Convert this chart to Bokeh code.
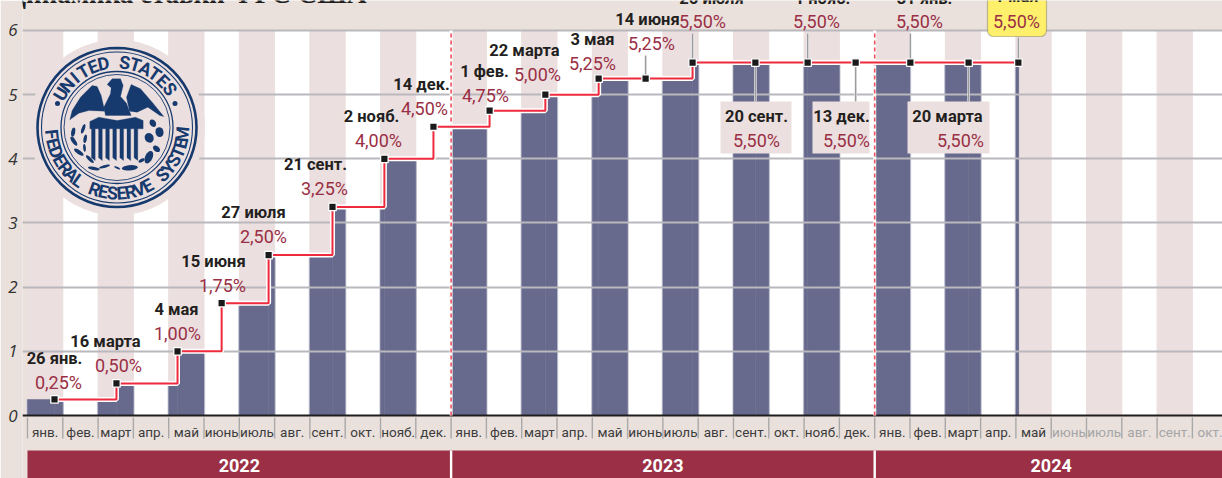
import numpy as np
from bokeh.plotting import figure
from bokeh.models import Label, BoxAnnotation, LinearAxis, FixedTicker, Range1d
from bokeh.core.properties import value
from bokeh.embed import file_html
from bokeh.resources import INLINE

# ---------- data ----------
months_base = ["янв.", "фев.", "март", "апр.", "май", "июнь", "июль", "авг.", "сент.", "окт.", "нояб.", "дек."]
month_labels = months_base * 2 + months_base[:10]
years = ["2022", "2023", "2024"]
year_months = [(0, 12), (12, 24), (24, 34)]
event_dates = ["26 янв.", "16 марта", "4 мая", "15 июня", "27 июля", "21 сент.", "2 нояб.", "14 дек.",
               "1 фев.", "22 марта", "3 мая", "14 июня", "26 июля", "20 сент.", "1 нояб.", "13 дек.",
               "31 янв.", "20 марта", "1 мая"]
event_rates = [0.25, 0.50, 1.00, 1.75, 2.50, 3.25, 4.00, 4.50,
               4.75, 5.00, 5.25, 5.25, 5.50, 5.50, 5.50, 5.50,
               5.50, 5.50, 5.50]
event_month = [0.765, 2.52, 4.25, 5.50, 6.83, 8.64, 10.11, 11.50,
               13.09, 14.67, 16.18, 17.51, 18.84, 20.62, 22.10, 23.46,
               25.01, 26.66, 28.07]
y_ticks = [0, 1, 2, 3, 4, 5, 6]

# ---------- layout (pixel placement of annotations) ----------
W, H = 1222, 478
MW, UH = 35.3, 64.17
X = lambda px: (np.asarray(px, dtype=float) - 27) / MW
Y = lambda py: (415 - np.asarray(py, dtype=float)) / UH
date_px = [(54, 358), (105, 341), (176, 309), (213, 261), (253, 212), (315, 164), (371, 116), (421, 84),
           (484, 71), (524, 50), (592, 39), (647, 19), (711, -2), (756, 116), (822, -2), (841, 116),
           (924, -2), (947, 116), (1016, -4)]
rate_px = [(58, 382), (118, 365), (177, 333), (222, 285), (263, 236), (324, 188), (378, 140), (424, 108),
           (485, 95), (537, 74), (592, 63), (651, 43), (702, 21), (756, 140), (816, 21), (846, 140),
           (919, 21), (960, 140), (1016, 21)]
BEIGE, STRIPE, BAR, RED, WINE, INK, NAVY = "#EAE1DD", "#ECDFDF", "#676A8C", "#EE2A3C", "#9A2F45", "#231F20", "#163A6E"
FONT = value("Roboto")

p = figure(width=W, height=H, output_backend="svg", toolbar_location=None,
           x_range=Range1d(float(X(22)), float(X(W))), y_range=Range1d(float(Y(H)), float(Y(0))),
           x_axis_location=None, y_axis_location=None, min_border_left=22, min_border_right=0,
           min_border_top=0, min_border_bottom=0, outline_line_color=None,
           background_fill_color=BEIGE, border_fill_color=BEIGE, margin=0)

yax = LinearAxis(ticker=FixedTicker(ticks=y_ticks), axis_line_color=None, major_tick_line_color=None,
                 minor_tick_line_color=None, major_tick_out=0, major_tick_in=0, major_label_standoff=5,
                 major_label_text_font="Open Sans", major_label_text_font_style="italic",
                 major_label_text_font_size="17px", major_label_text_color="#333333")
p.add_layout(yax, "left")
p.ygrid.ticker = FixedTicker(ticks=y_ticks[1:])
p.ygrid.grid_line_color = "#B9B8BC"
p.ygrid.grid_line_width = 2
p.xgrid.visible = False

# plot background + stripes (level "image", beneath grid)
n = len(month_labels)
p.quad(left=[0], right=[n], bottom=[0], top=[6], color="white", level="image")
odd = np.arange(0, n, 2)
p.quad(left=odd, right=odd + 1, bottom=0, top=6, color=STRIPE, level="image")

# bars: the step function of the rate inside every second month
bl, br, bt = [], [], []
ex, et = [], []
em = np.array(event_month)
for m in odd:
    cuts = [m] + [e for e in event_month if m < e < m + 1] + [m + 1]
    first = True
    last = None
    for a, b in zip(cuts[:-1], cuts[1:]):
        if a > event_month[-1]:
            continue
        i = np.searchsorted(em, a, side="right") - 1
        r = event_rates[max(i, 0)]
        bl.append(a); br.append(min(b, event_month[-1])); bt.append(r)
        if first:
            ex.append(a); et.append(r); first = False
        last = (min(b, event_month[-1]), r)
    if last:
        ex.append(last[0]); et.append(last[1])
p.segment(ex, 0, ex, et, color="#CFCFDB", line_width=2.4, level="image")
p.quad(left=bl, right=br, bottom=0, top=bt, fill_color=BAR, line_color=BAR, line_width=0.5, level="image")

# seal
cx, cy = 116.5, 127
def ZX(z): return 60 + np.asarray(z, dtype=float) / 3
def ZY(z): return 60 + np.asarray(z, dtype=float) / 3
def poly(pts):
    pts = np.array(pts, dtype=float)
    p.patch(X(ZX(pts[:, 0])), Y(ZY(pts[:, 1])), color=NAVY, line_width=0.3)
def leaf(x, y, l, w, ang, col=NAVY):
    t = np.linspace(0, 2 * np.pi, 20)
    a = np.radians(ang)
    u, v = l * np.cos(t), w * np.sin(t)
    p.patch(X(ZX(x + u * np.cos(a) - v * np.sin(a))), Y(ZY(y + u * np.sin(a) + v * np.cos(a))), color=col, line_width=0)

p.scatter([X(cx)], [Y(cy)], size=176, marker="circle", color=STRIPE, line_width=0)
for r, w in [(79.5, 2.6), (75.5, 1.1), (56, 1.3), (53, 0.9)]:
    p.scatter([X(cx)], [Y(cy)], size=2 * r, marker="circle", fill_color=None, line_color=NAVY, line_width=w)
for txt, a0, a1, off in [("UNITED STATES", 149, 36, -90), ("FEDERAL RESERVE SYSTEM", 186, 354, -270)]:
    th = np.linspace(a0, a1, len(txt))
    rr = 65.5
    p.text(X(cx + rr * np.cos(np.radians(th))), Y(cy - rr * np.sin(np.radians(th))), text=list(txt),
           angle=np.radians(th + off), text_align="center", text_baseline="middle",
           text_color=NAVY, text_font=value("Roboto"), text_font_style="bold", text_font_size="18px")
p.scatter(X([57, 174.5]), Y([103, 103]), size=5, color=NAVY, line_width=0)

poly([(28, 178), (35, 150), (60, 110), (95, 75), (110, 78), (122, 105), (133, 152), (85, 150), (55, 158)])
poly([(207, 152), (198, 110), (212, 72), (240, 85), (275, 125), (310, 168), (298, 165), (262, 140), (230, 155)])
poly([(140, 72), (155, 55), (180, 55), (188, 75), (180, 108), (198, 128), (212, 165), (135, 165), (130, 140), (150, 100), (152, 82)])
poly([(88, 205), (88, 183), (115, 170), (170, 180), (225, 170), (248, 180), (248, 205)])
for sx in np.arange(93, 240, 21.3):
    poly([(sx, 203), (sx + 11, 203), (sx + 11, 300), (sx, 292)])
for x_, y_, l_, w_, a_ in [(38, 215, 14, 6, 100), (40, 242, 16, 6, 55), (55, 275, 17, 6, 35), (68, 205, 15, 5, 110),
                           (74, 235, 13, 5, 100), (72, 262, 12, 4, 85), (88, 296, 16, 5, 45), (100, 324, 18, 5, 10),
                           (132, 318, 17, 4, -15), (208, 322, 24, 8, -5), (170, 322, 10, 3, 25)]:
    leaf(x_, y_, l_, w_, a_)
for x_, y_, l_, w_, a_ in [(277, 188, 12, 9, 60), (297, 215, 15, 12, 80), (266, 232, 15, 13, 60), (288, 265, 12, 8, 40),
                           (265, 290, 20, 11, 115), (243, 300, 10, 5, 150)]:
    leaf(x_, y_, l_, w_, a_)

# baseline, year dividers
p.segment(x0=[X(22)], x1=[n], y0=[0], y1=[0], color="#1E1E1E", line_width=2.2)
p.segment(x0=[12, 24], x1=[12, 24], y0=0, y1=6, color="white", line_width=3)
p.segment(x0=[12, 24], x1=[12, 24], y0=0, y1=6, color="#F0505F", line_width=1.6, line_dash="4 3")

# connectors
conn_idx = [11, 12, 13, 14, 15, 16, 17, 18]
conn_end = [55, 33, 101, 33, 101, 33, 101, 37]
cx_ = [event_month[i] for i in conn_idx]
cy0 = [event_rates[i] for i in conn_idx]
cy1 = [float(Y(v)) for v in conn_end]
p.segment(cx_, cy0, cx_, cy1, color="white", line_width=2.5)
p.segment(cx_, cy0, cx_, cy1, color="#9C9CA0", line_width=1.6)

# rate line
p.step(event_month, event_rates, mode="after", color="white", line_width=5)
p.step(event_month, event_rates, mode="after", color=RED, line_width=2)
p.scatter(event_month, event_rates, marker="square", size=7.5, color="#1A1A1A", line_color="white", line_width=1.3)

# label boxes
p.quad(left=X([720, 812, 907]), right=X([791, 869, 989]), bottom=Y(153), top=Y(101), color=STRIPE, line_width=0)
box = BoxAnnotation(left=float(X(987)), right=float(X(1046)), top=float(Y(-8)), bottom=float(Y(36)),
                    fill_color="#FFF06C", fill_alpha=1, line_color="#3A3A3A", line_width=1.2,
                    border_radius=6, level="underlay")
p.add_layout(box)

# date / rate labels
rate_text = [f"{r:.2f}".replace(".", ",") + "%" for r in event_rates]
p.text(X([a for a, b in date_px]), Y([b for a, b in date_px]), text=event_dates, text_align="center",
       text_baseline="middle", text_color=INK, text_font=FONT, text_font_style="bold", text_font_size="16.5px")
p.text(X([a for a, b in rate_px]), Y([b for a, b in rate_px]), text=rate_text, text_align="center",
       text_baseline="middle", text_color=WINE, text_font=FONT, text_font_size="18px")

# month axis row
mx = np.arange(n)
p.segment(mx, Y(417), mx, Y(438), color="#A9A9A9", line_width=1.4)
cols = ["#3C3C3C"] * 29 + ["#A5A5A5"] * 5
p.text(mx + 0.5, Y(431), text=month_labels, text_align="center", text_baseline="middle",
       text_color=cols, text_font=FONT, text_font_size="13.5px")

# year bands
p.quad(left=[a for a, b in year_months], right=[b for a, b in year_months], bottom=Y(478), top=Y(450), color=WINE, line_width=0)
p.segment([12, 24], Y(450), [12, 24], Y(478), color="white", line_width=2.4)
p.text([(a + b) / 2 for a, b in year_months], Y(465), text=years, text_align="center", text_baseline="middle",
       text_color="white", text_font=FONT, text_font_style="bold", text_font_size="18px")

# cropped title
p.add_layout(Label(x=float(X(7)), y=float(Y(4)), y_offset=11, text="Динамика ставки ФРС США", text_font="Liberation Serif",
                   text_font_style="bold", text_font_size="27px", text_color="#1F1F1F",
                   text_baseline="alphabetic", level="overlay"))

open("out.html", "w").write(file_html(p, INLINE))
